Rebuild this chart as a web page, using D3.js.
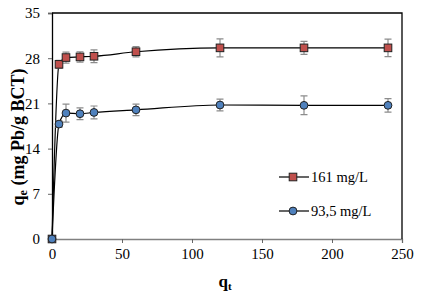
<!DOCTYPE html>
<html>
<head>
<meta charset="utf-8">
<script src="https://cdn.jsdelivr.net/npm/d3@7"></script>
<style>
  body { margin: 0; background: #fff; }
</style>
</head>
<body>
<div id="container"></div>
<script>
const width = 423, height = 295

/* DATA */
const times = [0, 5, 10, 20, 30, 60, 120, 180, 240]
const red161 = [0, 27.05, 28.1, 28.2, 28.3, 29.0, 29.6, 29.6, 29.6]
const red161Err = [0, 0.6, 0.85, 0.8, 1.0, 0.8, 1.4, 1.0, 1.35]
const blue935 = [0, 17.8, 19.5, 19.4, 19.6, 20.0, 20.75, 20.7, 20.7]
const blue935Err = [0, 0.5, 1.4, 0.9, 1.0, 0.9, 0.9, 1.45, 1.05]
const xTicks = [0, 50, 100, 150, 200, 250]
const yTicks = [0, 7, 14, 21, 28, 35]

const series = [
  { name: "93,5 mg/L", values: blue935, err: blue935Err, fill: "#4F81BD", shape: "circle" },
  { name: "161 mg/L", values: red161, err: red161Err, fill: "#C0504D", shape: "square" }
]

const plotLeft = 52, plotRight = 402, plotTop = 13, plotBottom = 239
const serif = "Liberation Serif"

const x = d3.scaleLinear().domain([0, 250]).range([plotLeft, plotRight])
const y = d3.scaleLinear().domain([0, 35]).range([plotBottom, plotTop])

const svg = d3.select("#container").append("svg")
  .attr("width", width)
  .attr("height", height)
  .attr("font-family", serif)

// axes
const yAxis = svg.append("g")
  .attr("transform", `translate(${plotLeft},0)`)
  .call(d3.axisLeft(y).tickValues(yTicks).tickSize(4).tickPadding(8))
yAxis.attr("font-family", serif)
yAxis.select(".domain").attr("stroke", "#000").attr("stroke-width", 1.3)
yAxis.selectAll(".tick line").attr("stroke", "#666")
yAxis.selectAll("text").attr("font-size", 15).attr("fill", "#000")

const xAxis = svg.append("g")
  .attr("transform", `translate(0,${plotBottom})`)
  .call(d3.axisBottom(x).tickValues(xTicks).tickSize(4).tickPadding(5))
xAxis.attr("font-family", serif)
xAxis.select(".domain").attr("stroke", "#808080").attr("stroke-width", 1.3)
xAxis.selectAll(".tick line").attr("stroke", "#666")
xAxis.selectAll("text").attr("font-size", 15).attr("fill", "#000")

// frame top and right
svg.append("path")
  .attr("d", `M${plotLeft},${plotTop}H${plotRight}V${plotBottom}`)
  .attr("fill", "none")
  .attr("stroke", "#000")
  .attr("stroke-width", 1.3)

const line = d3.line()
  .x((d, i) => x(times[i]))
  .y(d => y(d))
  .curve(d3.curveMonotoneX)

series.forEach(s => {
  svg.append("path")
    .datum(s.values)
    .attr("d", line)
    .attr("fill", "none")
    .attr("stroke", "#000")
    .attr("stroke-width", 1.2)
})

// error bars
series.forEach(s => {
  const g = svg.append("g")
  const pts = s.values.map((v, i) => ({ t: times[i], v: v, e: s.err[i] }))
  pts.filter(d => d.e > 0).forEach(d => {
    g.append("path")
      .attr("d", `M${x(d.t)},${y(d.v + d.e)}V${y(d.v - d.e)}M${x(d.t) - 3.5},${y(d.v + d.e)}h7M${x(d.t) - 3.5},${y(d.v - d.e)}h7`)
      .attr("stroke", "#8c8c8c")
      .attr("stroke-width", 1.2)
      .attr("fill", "none")
  })
})

function marker(g, shape, cx, cy, fill) {
  if (shape === "square") {
    g.append("rect")
      .attr("x", cx - 3.8).attr("y", cy - 3.8)
      .attr("width", 7.6).attr("height", 7.6)
      .attr("fill", fill).attr("stroke", "#222").attr("stroke-width", 1)
  } else {
    g.append("circle")
      .attr("cx", cx).attr("cy", cy).attr("r", 3.9)
      .attr("fill", fill).attr("stroke", "#222").attr("stroke-width", 1)
  }
}

// red first, blue on top at the origin
series.slice().reverse().forEach(s => {
  const g = svg.append("g")
  s.values.forEach((v, i) => marker(g, s.shape, x(times[i]), y(v), s.fill))
})

// legend
const legendY = [177, 211]
const legendOrder = [series[1], series[0]]
legendOrder.forEach((s, i) => {
  const g = svg.append("g")
  g.append("line")
    .attr("x1", 279).attr("x2", 309)
    .attr("y1", legendY[i]).attr("y2", legendY[i])
    .attr("stroke", "#000").attr("stroke-width", 1.2)
  marker(g, s.shape, 293, legendY[i], s.fill)
  g.append("text")
    .attr("x", 311).attr("y", legendY[i] + 5)
    .attr("font-size", 14.5)
    .text(s.name)
})

// axis labels
svg.append("text")
  .attr("transform", `translate(24,137) rotate(-90)`)
  .attr("text-anchor", "middle")
  .attr("font-size", 18)
  .attr("font-weight", "bold")
  .html('q<tspan font-size="12" dy="3">e</tspan><tspan dy="-3"> (mg Pb/g BCT)</tspan>')

svg.append("text")
  .attr("x", 225)
  .attr("y", 287)
  .attr("text-anchor", "middle")
  .attr("font-size", 17)
  .attr("font-weight", "bold")
  .html('q<tspan font-size="11" dy="3">t</tspan>')
</script>
</body>
</html>
